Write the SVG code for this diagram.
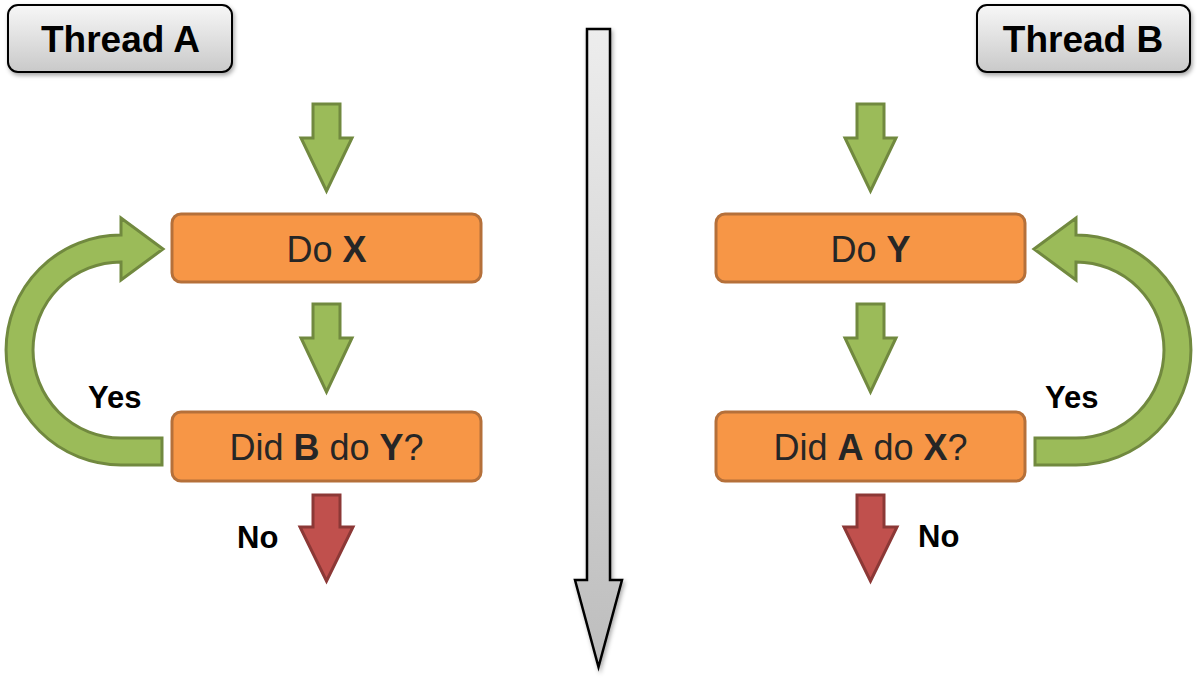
<svg xmlns="http://www.w3.org/2000/svg" width="1197" height="680" viewBox="0 0 1197 680">
<style>
.box{fill:#F79646;stroke:#B5703A;stroke-width:3}
.bt{font-family:"Liberation Sans",Arial,sans-serif;font-size:36px;fill:#262626;text-anchor:middle}
.b{font-weight:bold}
.hdr{fill:url(#gHdr);stroke:#000;stroke-width:2;filter:url(#sh)}
.ht{font-family:"Liberation Sans",Arial,sans-serif;font-size:37px;font-weight:bold;fill:#000;text-anchor:middle}
.ga{fill:#9BBB59;stroke:#71893F;stroke-width:3;stroke-linejoin:miter}
.ra{fill:#C0504D;stroke:#8C3836;stroke-width:3}
.lbl{font-family:"Liberation Sans",Arial,sans-serif;font-size:31px;font-weight:bold;fill:#000}
</style>
<defs>
<linearGradient id="gHdr" x1="0" y1="0" x2="0" y2="1">
<stop offset="0" stop-color="#F7F7F7"/>
<stop offset="1" stop-color="#C9C9C9"/>
</linearGradient>
<linearGradient id="gTime" x1="0" y1="0" x2="0" y2="1">
<stop offset="0" stop-color="#EDEDED"/>
<stop offset="1" stop-color="#BDBDBD"/>
</linearGradient>
<filter id="sh" x="-10%" y="-10%" width="130%" height="140%">
<feDropShadow dx="1.5" dy="2.5" stdDeviation="2" flood-color="#000" flood-opacity="0.35"/>
</filter>
</defs>
<rect width="1197" height="680" fill="#fff"/>
<g id="connectors">
<path id="time" d="M587 29 L610 29 L610 580 L622 580 L598.5 667 L575 580 L587 580 Z" fill="url(#gTime)" stroke="#000" stroke-width="2.5" stroke-linejoin="miter" filter="url(#sh)"/>
<path class="ga" d="M313 104 L340 104 L340 138 L352 138 L326.5 191 L301 138 L313 138 Z"/>
<path class="ga" d="M313 304 L340 304 L340 338 L352 338 L326.5 392 L301 338 L313 338 Z"/>
<path class="ga" d="M857 104 L884 104 L884 138 L896 138 L870.5 191 L845 138 L857 138 Z"/>
<path class="ga" d="M857 304 L884 304 L884 338 L896 338 L870.5 392 L845 338 L857 338 Z"/>
<path class="ga" d="M162 438 L121 438 A88 88 0 0 1 121 262 L121 280 L163 249 L121 218 L121 235 A115 115 0 0 0 121 465 L162 465 Z"/>
<path class="ga" d="M1035 438 L1076 438 A88 88 0 0 0 1076 262 L1076 280 L1034 249 L1076 218 L1076 235 A115 115 0 0 1 1076 465 L1035 465 Z"/>
<path class="ra" d="M313 495 L340 495 L340 527 L353 527 L326.5 581 L300 527 L313 527 Z"/>
<path class="ra" d="M857 495 L884 495 L884 527 L897 527 L870.5 581 L844 527 L857 527 Z"/>
<text class="lbl" x="88" y="408">Yes</text>
<text class="lbl" x="1045" y="408">Yes</text>
<text class="lbl" x="237" y="548">No</text>
<text class="lbl" x="918" y="547">No</text>
</g>
<g id="threadA">
<rect class="hdr" x="8" y="5" width="224" height="67" rx="10"/>
<text class="ht" x="120.5" y="52">Thread A</text>
</g>
<g id="threadB">
<rect class="hdr" x="977" y="5" width="213" height="67" rx="10"/>
<text class="ht" x="1083" y="52">Thread B</text>
</g>
<g id="doX">
<rect class="box" x="172" y="214" width="309" height="68" rx="9"/>
<text class="bt" x="326.5" y="262">Do <tspan class="b">X</tspan></text>
</g>
<g id="didBdoY">
<rect class="box" x="172" y="412" width="309" height="69" rx="9"/>
<text class="bt" x="326.5" y="460">Did <tspan class="b">B</tspan> do <tspan class="b">Y</tspan>?</text>
</g>
<g id="doY">
<rect class="box" x="716" y="214" width="309" height="68" rx="9"/>
<text class="bt" x="870.5" y="262">Do <tspan class="b">Y</tspan></text>
</g>
<g id="didAdoX">
<rect class="box" x="716" y="412" width="309" height="69" rx="9"/>
<text class="bt" x="870.5" y="460">Did <tspan class="b">A</tspan> do <tspan class="b">X</tspan>?</text>
</g>
</svg>
